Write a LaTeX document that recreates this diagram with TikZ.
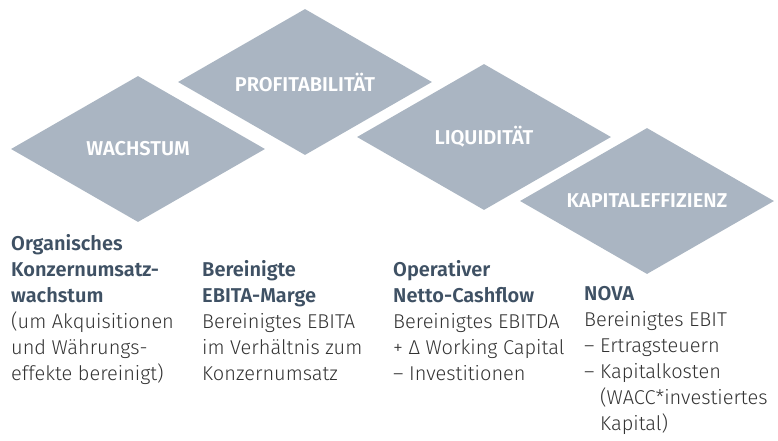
\documentclass[tikz,border=0pt]{standalone}
\usepackage{fontspec}
\setmainfont{Fira Sans}[UprightFont=* Light, BoldFont=* SemiBold]
\usetikzlibrary{shapes.geometric}
\definecolor{dia}{HTML}{AAB5C2}
\definecolor{head}{HTML}{3F5164}
\definecolor{body}{HTML}{333333}
\tikzset{
  rhomb/.style={diamond, fill=dia, draw=none, inner sep=0pt, aspect=1.74,
    minimum width=254pt, minimum height=146pt, text=white,
    font=\bfseries\fontsize{20}{24}\selectfont},
  col/.style={anchor=north west, inner sep=0pt, align=left, text=body,
    font=\fontsize{20}{26}\selectfont},
}
\newcommand{\hd}[1]{\textbf{\textcolor{head}{#1}}}
\begin{document}
\begin{tikzpicture}[x=1pt,y=-1pt]
\useasboundingbox (0,0) rectangle (778,440);
\node[rhomb] (wachstum) at (138,149) {WACHSTUM};
\node[rhomb] (profit) at (305,82) {PROFITABILITÄT};
\node[rhomb] (liquid) at (484,137) {LIQUIDITÄT};
\node[rhomb] (kapital) at (647,201) {KAPITALEFFIZIENZ};
\node[col] (c1) at (11,234) {\hd{Organisches}\\\hd{Konzernumsatz-}\\\hd{wachstum}\\(um Akquisitionen\\und Währungs-\\effekte bereinigt)};
\node[col] (c2) at (202,260) {\hd{Bereinigte}\\\hd{EBITA-Marge}\\Bereinigtes EBITA\\im Verhältnis zum\\Konzernumsatz};
\node[col] (c3) at (393,260) {\hd{Operativer}\\\hd{Netto-Cashflow}\\Bereinigtes EBITDA\\+ Δ Working Capital\\– Investitionen};
\node[col] (c4) at (584,286) {\hd{NOVA}\\Bereinigtes EBIT\\– Ertragsteuern\\– Kapitalkosten\\\hphantom{– }(WACC*investiertes\\\hphantom{– }Kapital)};
\end{tikzpicture}
\end{document}
